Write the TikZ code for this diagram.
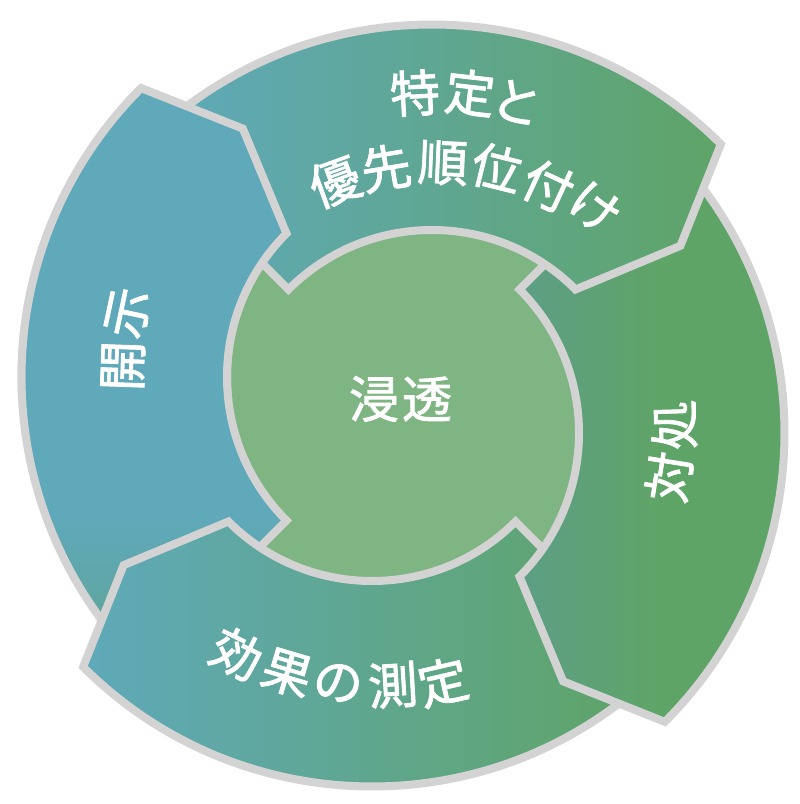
\documentclass[tikz,border=0pt]{standalone}
\usepackage{fontspec}
\newfontfamily\cjk[FakeBold=1.6]{Noto Sans CJK JP}
\definecolor{ringgray}{HTML}{D3D3D3}
\definecolor{hubgreen}{HTML}{7FB583}
\definecolor{sblue}{HTML}{5FA9BA}
\definecolor{sgreen}{HTML}{5FA467}
\definecolor{smid}{HTML}{60A08F}
\definecolor{steal}{HTML}{5D9E85}
\definecolor{sbluelow}{HTML}{5FA59A}
\pgfdeclarehorizontalshading{rightfade}{100bp}{color(0bp)=(steal); color(25bp)=(steal); color(48bp)=(sgreen); color(100bp)=(sgreen)}
\pgfdeclareverticalshading{leftfade}{100bp}{color(0bp)=(sbluelow); color(25bp)=(sbluelow); color(36bp)=(sblue); color(100bp)=(sblue)}
\tikzset{
  x=1pt,y=1pt,
  sector/.style={draw=ringgray,line width=8pt,line join=miter,miter limit=10},
  topfill/.style={sector,shade,left color=sblue,middle color=smid,right color=sgreen},
  botfill/.style={sector,shade,left color=sblue,middle color=smid,right color=sgreen},
  leftfill/.style={sector,shade,shading=leftfade},
  rightfill/.style={sector,shade,shading=rightfade},
  turn/.style={shift={(403,399)},rotate=#1,shift={(28,-27)}},
  lab/.style={text=white,font=\cjk\fontsize{50}{50}\selectfont,inner sep=0pt,anchor=center},
}
\newcommand\sectorpath{(45:408.5) arc[start angle=45,end angle=130,radius=408.5] -- (135:253) -- (135:203) arc[start angle=135,end angle=45,radius=203] -- (37:311) -- cycle}
\begin{document}
\begin{tikzpicture}
\useasboundingbox (0,0) rectangle (800,804);
\fill[white] (0,0) rectangle (800,804);
\fill[hubgreen] (403,399) circle[radius=230];
\path[turn=90,leftfill] \sectorpath;
\path[shift={(-3,0)},turn=180,botfill] \sectorpath;
\path[turn=270,rightfill] \sectorpath;
\path[shift={(1,-1)},turn=0,topfill] \sectorpath;
\begin{scope}
  \clip (0,404) rectangle (800,804);
  \path[turn=90,leftfill] \sectorpath;
\end{scope}
\node[lab,rotate=3] (t1) at (415,711) {特};
\node[lab,rotate=-6.5] (t2) at (470,711) {定};
\node[lab,rotate=-14.5] (t3) at (517,702) {と};
\node[lab,rotate=20] (p1) at (335,622) {優};
\node[lab,rotate=9.5] (p2) at (386,636) {先};
\node[lab,rotate=-2.5] (p3) at (443,641) {順};
\node[lab,rotate=-14] (p4) at (497,636) {位};
\node[lab,rotate=-25] (p5) at (548,618) {付};
\node[lab,rotate=-36] (p6) at (595,596) {け};
\node[lab,rotate=-26] (m1) at (237,150) {効};
\node[lab,rotate=-16.5] (m2) at (287,131) {果};
\node[lab,rotate=-6.5] (m3) at (338,121) {の};
\node[lab,rotate=3.5] (m4) at (393,119) {測};
\node[lab,rotate=13] (m5) at (443,122) {定};
\node[lab,rotate=81] (r1) at (669,327) {対};
\node[lab,rotate=91.5] (r2) at (674,379) {処};
\node[lab,rotate=88] (l1) at (123,438) {開};
\node[lab,rotate=78] (l2) at (128,491) {示};
\node[lab] (c1) at (374,405) {浸};
\node[lab] (c2) at (427,405) {透};
\end{tikzpicture}
\end{document}
